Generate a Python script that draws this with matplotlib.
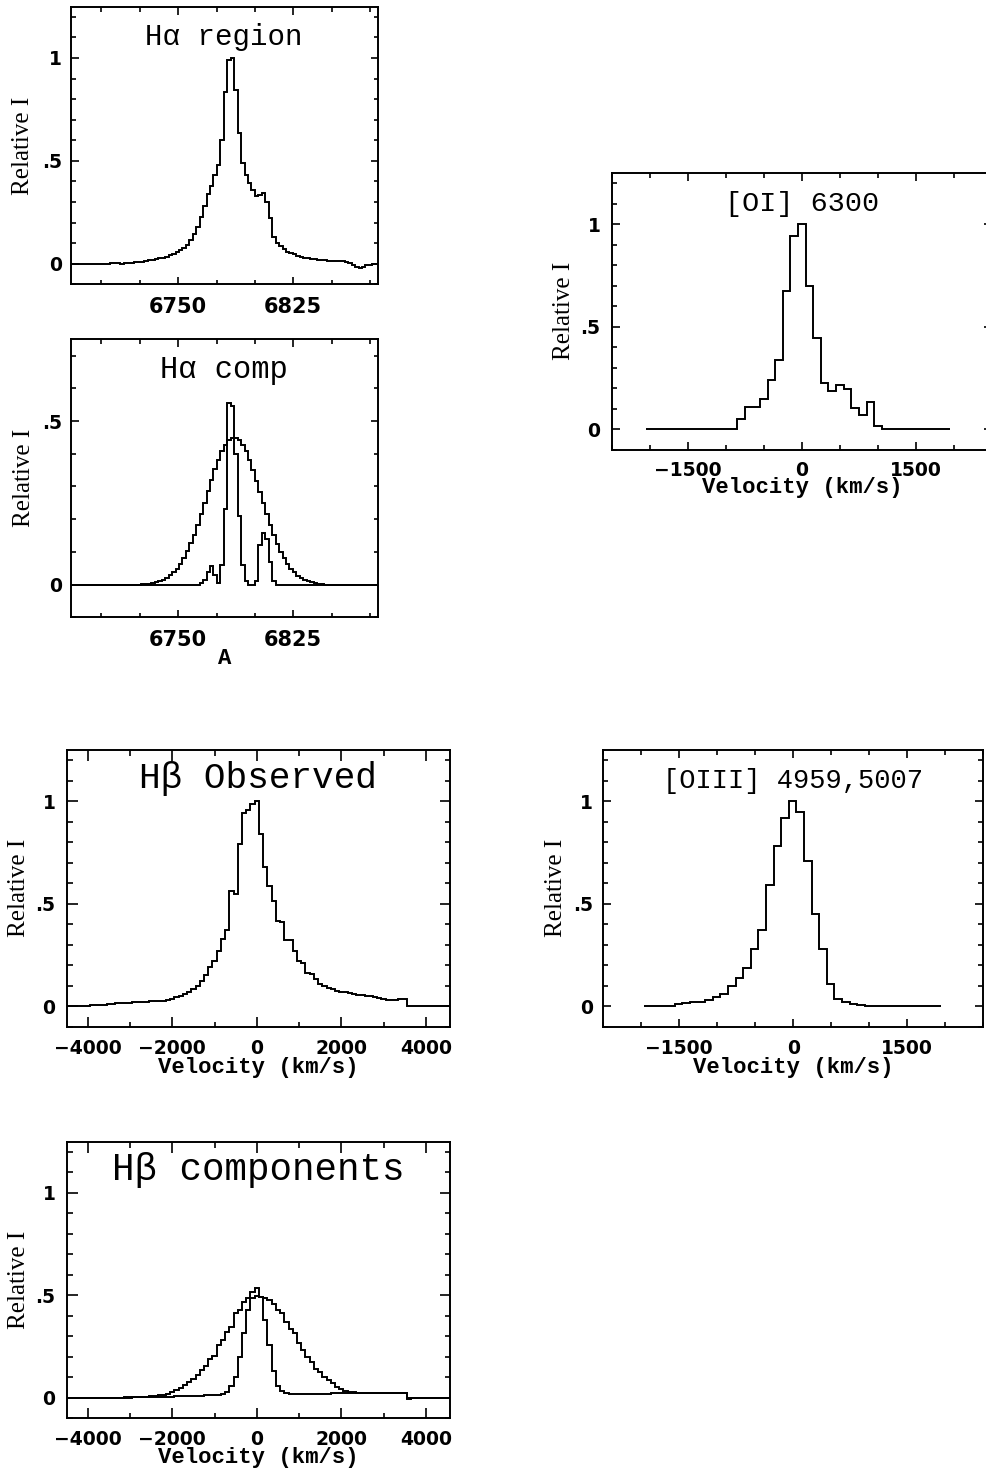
import numpy as np
import matplotlib
matplotlib.use("Agg")
import matplotlib.pyplot as plt
from matplotlib.ticker import FixedLocator, MultipleLocator, FixedFormatter, FuncFormatter

# ---------------------------------------------------------------- data
# H-alpha + [NII] region, 2.25 A bins centred on the H-alpha peak
ha_wave = 6785.4 + 2.25 * np.arange(-47, 43)

ha_observed = [
    0.0, 0.0, 0.0, 0.0, 0.0, 0.0, 0.0, 0.0, 0.0, 0.0, 0.0,
    0.001, 0.003, 0.002, 0.002, 0.001, 0.002, 0.003, 0.005, 0.007, 0.008,
    0.010, 0.012, 0.016, 0.019, 0.022, 0.026, 0.030, 0.035, 0.041, 0.047,
    0.055, 0.065, 0.076, 0.092, 0.115, 0.143, 0.178, 0.225, 0.280, 0.340,
    0.380, 0.430, 0.480, 0.600, 0.836, 0.990, 1.000, 0.843, 0.633, 0.490,
    0.430, 0.390, 0.360, 0.330, 0.335, 0.345, 0.300, 0.220, 0.130, 0.100,
    0.084, 0.070, 0.059, 0.051, 0.045, 0.039, 0.034, 0.030, 0.027, 0.024,
    0.021, 0.019, 0.018, 0.016, 0.015, 0.014, 0.013, 0.012, 0.011, 0.008,
    0.002, -0.008, -0.017, -0.019, -0.015, -0.008, -0.004, -0.003, -0.001,
]

ha_broad = [0.0] * 21 + [
    0.002, 0.002, 0.003, 0.005, 0.007, 0.010, 0.015, 0.020, 0.028, 0.037,
    0.049, 0.063, 0.081, 0.102, 0.126, 0.153, 0.183, 0.216, 0.250, 0.285,
    0.319, 0.352, 0.382, 0.407, 0.428, 0.442, 0.449, 0.449, 0.442, 0.427,
    0.407, 0.381, 0.351, 0.318, 0.284, 0.249, 0.215, 0.183, 0.152, 0.125,
    0.101, 0.080, 0.063, 0.049, 0.037, 0.027, 0.020, 0.015, 0.010, 0.007,
    0.005, 0.003, 0.002,
] + [0.0] * 16

ha_narrow = [0.0] * 37 + [
    0.0, 0.005, 0.015, 0.040, 0.056, 0.030, 0.005, 0.060, 0.230, 0.555,
    0.545, 0.400, 0.210, 0.060, 0.010, 0.0, 0.0, 0.012, 0.120, 0.158,
    0.140, 0.070, 0.010, 0.0,
] + [0.0] * 29

# [OI] 6300, 100 km/s bins
oi_velocity = np.arange(-2000, 2000, 100)
oi_profile = [0.0] * 12 + [
    0.050, 0.107, 0.110, 0.146, 0.240, 0.340, 0.673, 0.940, 1.000, 0.700,
    0.445, 0.227, 0.188, 0.218, 0.197, 0.104, 0.070, 0.136, 0.019,
] + [0.0] * 9

# [OIII] 4959,5007, 100 km/s bins
oiii_velocity = np.arange(-1910, 1900, 100)
oiii_profile = [0.0] * 4 + [
    0.013, 0.015, 0.019, 0.020, 0.028, 0.045, 0.060, 0.100, 0.140, 0.187,
    0.280, 0.370, 0.590, 0.780, 0.917, 1.000, 0.948, 0.710, 0.450, 0.280,
    0.109, 0.037, 0.020, 0.011, 0.006, 0.003,
    0.002, 0.002, 0.001, 0.001, 0.001, 0.0, 0.0, 0.0, 0.0,
]

# H-beta, 100 km/s bins
hb_velocity = np.arange(-4500, 4700, 100)
hb_observed = [
    0.0, 0.0, 0.0, 0.001, 0.002, 0.003, 0.004, 0.005, 0.006, 0.008,
    0.010, 0.012, 0.014, 0.015, 0.016, 0.017, 0.019, 0.020, 0.021, 0.022,
    0.023, 0.025, 0.026, 0.027, 0.030, 0.036, 0.044, 0.050, 0.058, 0.070,
    0.085, 0.100, 0.125, 0.150, 0.190, 0.220, 0.270, 0.330, 0.370, 0.560,
    0.545, 0.790, 0.943, 0.956, 0.988, 1.000, 0.842, 0.677, 0.586, 0.515,
    0.418, 0.410, 0.324, 0.321, 0.268, 0.220, 0.212, 0.164, 0.155, 0.131,
    0.107, 0.099, 0.091, 0.083, 0.075, 0.070, 0.067, 0.063, 0.059, 0.057,
    0.055, 0.052, 0.048, 0.043, 0.038, 0.034, 0.031, 0.030, 0.031, 0.033,
    0.036,
] + [0.0] * 11

hb_broad = [0.0] * 10 + [0.001] * 5 + [
    0.001, 0.002, 0.003, 0.004, 0.005, 0.007, 0.009, 0.012, 0.015, 0.020,
    0.026, 0.037, 0.050, 0.062, 0.078, 0.094, 0.111, 0.135, 0.155, 0.187,
    0.204, 0.257, 0.281, 0.322, 0.346, 0.412, 0.431, 0.468, 0.485, 0.489,
    0.496, 0.494, 0.489, 0.477, 0.460, 0.431, 0.412, 0.371, 0.334, 0.314,
    0.268, 0.233, 0.200, 0.176, 0.143, 0.124, 0.102, 0.086, 0.070, 0.054,
    0.041, 0.033, 0.028, 0.026,
] + [0.025] * 12 + [-0.008] + [0.0] * 10

hb_narrow = [0.0] * 11 + [
    0.001, 0.001, 0.001, 0.002, 0.002, 0.002, 0.003, 0.003, 0.003, 0.004,
    0.004, 0.005, 0.005, 0.006, 0.006, 0.007, 0.007, 0.008, 0.009, 0.010,
    0.010, 0.011, 0.012, 0.013, 0.014, 0.016, 0.021, 0.029, 0.057, 0.100,
    0.200, 0.314, 0.428, 0.517, 0.538, 0.490, 0.380, 0.257, 0.130, 0.058,
    0.033, 0.024, 0.021, 0.020, 0.020, 0.020, 0.020, 0.020, 0.021, 0.021,
    0.021, 0.021, 0.022, 0.022, 0.022, 0.022, 0.023, 0.023, 0.023,
] + [0.024] * 11 + [0.0] * 11

# ---------------------------------------------------------------- style
plt.rcParams["font.family"] = "DejaVu Sans"
plt.rcParams["font.weight"] = "bold"

TITLE_FONT = ["Liberation Mono", "DejaVu Sans Mono"]
LABEL_FONT = ["Liberation Mono", "DejaVu Sans Mono"]
YLABEL_FONT = ["Liberation Serif", "DejaVu Serif"]
LW = 1.4
TICK_SIZE = 13.5

W, H = 987, 1471
fig = plt.figure(figsize=(W / 100, H / 100), dpi=100)
fig.patch.set_facecolor("white")


def panel(left, top, right, bottom):
    """Axes from a pixel box (left, top, right, bottom)."""
    return fig.add_axes([left / W, 1 - bottom / H, (right - left) / W, (bottom - top) / H])


def edges(centers):
    c = np.asarray(centers, dtype=float)
    step = c[1] - c[0]
    return np.concatenate([c - step / 2, [c[-1] + step / 2]])


def signed(v, pos):
    return f"{int(round(v))}".replace("-", "\u2212")


def frame(ax, xlim, ylim, xmajor, xminor, ymajor, ylabels,
          majlen, minlen, xpad, ypad, xsize=TICK_SIZE):
    ax.set_xlim(*xlim)
    ax.set_ylim(*ylim)
    ax.xaxis.set_major_locator(FixedLocator(xmajor))
    ax.xaxis.set_minor_locator(MultipleLocator(xminor))
    ax.xaxis.set_major_formatter(FuncFormatter(signed))
    ax.yaxis.set_major_locator(FixedLocator(ymajor))
    ax.yaxis.set_minor_locator(MultipleLocator(0.1))
    ax.yaxis.set_major_formatter(FixedFormatter(ylabels))
    ax.tick_params(which="both", direction="in", top=True, right=True,
                   width=1.2, colors="black", labelsize=TICK_SIZE)
    ax.tick_params(axis="x", labelsize=xsize)
    ax.tick_params(which="major", length=majlen)
    ax.tick_params(which="minor", length=minlen)
    ax.tick_params(axis="x", which="major", pad=xpad)
    ax.tick_params(axis="y", which="major", pad=ypad)
    for s in ax.spines.values():
        s.set_linewidth(LW)


def title(ax, text, size):
    ax.text(0.5, 0.861, text, transform=ax.transAxes, ha="center", va="baseline",
            fontsize=size, family=TITLE_FONT, fontweight="normal")


def ylab(ax, xpos):
    ax.set_ylabel("Relative I", family=YLABEL_FONT, fontweight="normal",
                  fontsize=18, va="center")
    ax.yaxis.set_label_coords(xpos, 0.5)


def xlab(ax, text, ypos, size=16):
    ax.set_xlabel(text, family=LABEL_FONT, fontweight="bold", fontsize=size,
                  va="baseline")
    ax.xaxis.set_label_coords(0.5, ypos)


def hist(ax, centers, values):
    ax.stairs(values, edges(centers), baseline=None, color="black", linewidth=LW)


# ---------------------------------------------------------------- H-alpha region
ax1 = panel(70.7, 6.5, 377.7, 284.3)
hist(ax1, ha_wave, ha_observed)
frame(ax1, (6680, 6880), (-0.1, 1.25), [6675, 6750, 6825, 6900], 25,
      [0, 0.5, 1], ["0", ".5", "1"], 7.5 * 0.72, 4.5 * 0.72, 9.5, 6.5, xsize=15)
title(ax1, "H\u03b1 region", 21)
ylab(ax1, -0.155)

# ---------------------------------------------------------------- H-alpha components
ax2 = panel(70.7, 339.3, 377.7, 617.3)
hist(ax2, ha_wave, ha_broad)
hist(ax2, ha_wave, ha_narrow)
frame(ax2, (6680, 6880), (-0.1, 0.75), [6675, 6750, 6825, 6900], 25,
      [0, 0.5], ["0", ".5"], 7.5 * 0.72, 4.5 * 0.72, 9.0, 6.5, xsize=15)
title(ax2, "H\u03b1 comp", 22)
ylab(ax2, -0.152)
xlab(ax2, "A", -0.167)

# ---------------------------------------------------------------- [OI] 6300
ax3 = panel(611.7, 172.7, 992, 450)
hist(ax3, oi_velocity, oi_profile)
frame(ax3, (-2500, 2500), (-0.1, 1.25), [-1500, 0, 1500], 500,
      [0, 0.5, 1], ["0", ".5", "1"], 8 * 0.72, 5 * 0.72, 8.0, 8.0)
title(ax3, "[OI] 6300", 20.5)
ylab(ax3, -0.126)
xlab(ax3, "Velocity (km/s)", -0.156)

# ---------------------------------------------------------------- H-beta observed
ax4 = panel(66.7, 750, 449.5, 1026.7)
hist(ax4, hb_velocity, hb_observed)
frame(ax4, (-4500, 4560), (-0.1, 1.25), [-4000, -2000, 0, 2000, 4000], 1000,
      [0, 0.5, 1], ["0", ".5", "1"], 10.5 * 0.72, 5.5 * 0.72, 9.0, 8.0)
title(ax4, "H\u03b2 Observed", 26)
ylab(ax4, -0.1245)
xlab(ax4, "Velocity (km/s)", -0.166)

# ---------------------------------------------------------------- [OIII] 4959,5007
ax5 = panel(603.3, 750, 983.3, 1026.7)
hist(ax5, oiii_velocity, oiii_profile)
frame(ax5, (-2500, 2500), (-0.1, 1.25), [-1500, 0, 1500], 500,
      [0, 0.5, 1], ["0", ".5", "1"], 8 * 0.72, 5 * 0.72, 8.5, 7.5)
title(ax5, "[OIII] 4959,5007", 19.5)
ylab(ax5, -0.124)
xlab(ax5, "Velocity (km/s)", -0.166)

# ---------------------------------------------------------------- H-beta components
ax6 = panel(66.7, 1141.7, 449.5, 1418.3)
hist(ax6, hb_velocity, hb_broad)
hist(ax6, hb_velocity, hb_narrow)
frame(ax6, (-4500, 4560), (-0.1, 1.25), [-4000, -2000, 0, 2000, 4000], 1000,
      [0, 0.5, 1], ["0", ".5", "1"], 10.5 * 0.72, 5.5 * 0.72, 8.5, 8.0)
title(ax6, "H\u03b2 components", 27)
ylab(ax6, -0.1245)
xlab(ax6, "Velocity (km/s)", -0.162)

fig.savefig("out.png", dpi=100, facecolor="white")
